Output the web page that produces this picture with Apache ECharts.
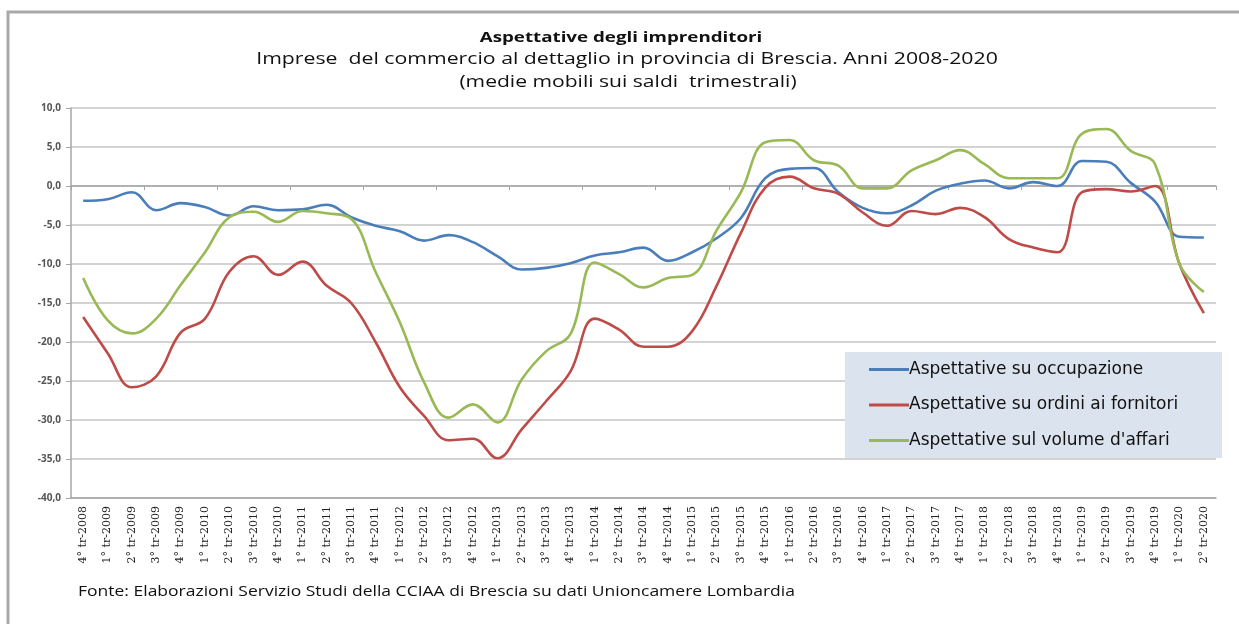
<!DOCTYPE html>
<html>
<head>
<meta charset="utf-8">
<script src="https://cdn.jsdelivr.net/npm/echarts@6/dist/echarts.min.js"></script>
<style>
  html, body { margin: 0; padding: 0; background: #fff; }
  #chart { width: 1239px; height: 624px; }
</style>
</head>
<body>
<div id="chart"></div>
<script>
// trimestri 4° tr-2008 ... 2° tr-2020
const quarters = ["4° tr-2008"];
for (let y = 2009; y <= 2020; y++) {
  for (let q = 1; q <= 4; q++) {
    if (y === 2020 && q > 2) break;
    quarters.push(q + "° tr-" + y);
  }
}

const seriesNames = [
  "Aspettative su occupazione",
  "Aspettative su ordini ai fornitori",
  "Aspettative sul volume d'affari",
];

const occupazione = [
  -1.9, -1.7, -0.8, -3.1, -2.2, -2.7, -3.8, -2.6, -3.1, -3.0, -2.4, -4.0,
  -5.1, -5.8, -7.0, -6.3, -7.2, -9.0, -10.7, -10.5, -9.9, -8.9, -8.5, -7.9,
  -9.6, -8.5, -6.7, -4.1, 1.0, 2.2, 2.3, -0.8, -2.8, -3.5, -2.5, -0.6,
  0.3, 0.7, -0.3, 0.5, 0.0, 3.2, 3.1, 0.4, -2.0, -6.5, -6.6,
];

const ordini = [
  -16.8, -21.4, -25.8, -24.4, -18.8, -17.0, -11.0, -9.0, -11.4, -9.7, -12.8, -15.0,
  -20.0, -25.8, -29.5, -32.6, -32.4, -34.9, -31.2, -27.6, -23.8, -17.0, -18.4, -20.6,
  -20.6, -18.6, -12.8, -6.0, -0.2, 1.2, -0.3, -1.0, -3.4, -5.1, -3.2, -3.6,
  -2.8, -4.0, -6.8, -7.9, -8.5, -0.8, -0.4, -0.7, 0.0, -10.0, -16.3,
];

const volume = [
  -11.8, -17.2, -18.9, -17.0, -12.7, -8.5, -4.0, -3.3, -4.6, -3.2, -3.5, -4.2,
  -11.0, -17.5, -25.2, -29.7, -28.0, -30.3, -24.8, -21.2, -19.0, -9.8, -11.3, -13.0,
  -11.8, -11.4, -5.7, -0.8, 5.6, 5.9, 3.3, 2.6, -0.3, -0.3, 2.0, 3.3,
  4.6, 2.8, 1.0, 1.0, 1.0, 6.7, 7.3, 4.5, 2.8, -10.0, -13.6,
];

const colors = ["#4a7ebb", "#be4b48", "#98b954"];

// testo con allargamento orizzontale (l'originale è stirato)
function label(text, x, y, font, sx, align) {
  return {
    type: "text",
    silent: true,
    x: x,
    y: y,
    scaleX: sx,
    style: {
      text: text,
      x: 0,
      y: 0,
      textAlign: align || "center",
      textVerticalAlign: "middle",
      font: font,
      fill: "#111",
    },
  };
}

const chart = echarts.init(document.getElementById("chart"));

const option = {
  animation: false,
  color: colors,
  graphic: [
    {
      type: "rect",
      z: 0,
      silent: true,
      shape: { x: 8, y: 12, width: 1300, height: 700 },
      style: { fill: "none", stroke: "#a9a9a9", lineWidth: 3 },
    },
    label("Aspettative degli imprenditori", 621, 38, "bold 15px 'Open Sans'", 1.25),
    label("Imprese  del commercio al dettaglio in provincia di Brescia. Anni 2008-2020", 627, 59, "17px 'Open Sans'", 1.25),
    label("(medie mobili sui saldi  trimestrali)", 628, 82, "17px 'Open Sans'", 1.24),
    label("Fonte: Elaborazioni Servizio Studi della CCIAA di Brescia su dati Unioncamere Lombardia", 78, 592, "14px 'Open Sans'", 1.25, "left"),
    {
      type: "rect",
      z: 5,
      silent: true,
      shape: { x: 845, y: 352, width: 377, height: 106 },
      style: { fill: "#dbe3ee" },
    },
  ],
  legend: {
    z: 10,
    orient: "vertical",
    left: 864,
    top: 356,
    icon: "rect",
    itemWidth: 40,
    itemHeight: 3,
    itemGap: 18.5,
    textStyle: {
      fontFamily: "DejaVu Sans",
      fontSize: 17,
      color: "#111",
      padding: [0, 0, 0, -5],
    },
    data: seriesNames,
  },
  grid: { left: 71, right: 23, top: 108, bottom: 126 },
  xAxis: [
    {
      type: "category",
      data: quarters,
      position: "bottom",
      axisLine: { onZero: false, lineStyle: { color: "#a6a6a6", width: 1.5 } },
      axisTick: { show: false },
      axisLabel: {
        rotate: 90,
        interval: 0,
        margin: 8,
        fontFamily: "DejaVu Serif",
        fontSize: 11,
        color: "#222",
      },
    },
    {
      type: "category",
      data: quarters,
      position: "top",
      axisLine: { onZero: true, lineStyle: { color: "#a6a6a6", width: 1.5 } },
      axisTick: { show: true, inside: true, length: 4, lineStyle: { color: "#a6a6a6" } },
      axisLabel: { show: false },
    },
  ],
  yAxis: {
    type: "value",
    min: -40,
    max: 10,
    interval: 5,
    axisLine: { show: true, lineStyle: { color: "#a6a6a6", width: 1.5 } },
    axisTick: { show: true, length: 5, lineStyle: { color: "#a6a6a6" } },
    splitLine: { lineStyle: { color: "#c4c4c4", width: 1.5 } },
    axisLabel: {
      margin: 10,
      fontFamily: "Open Sans",
      fontSize: 10,
      fontWeight: "bold",
      color: "#555",
      formatter: (v) => v.toFixed(1).replace(".", ","),
    },
  },
  series: [
    { name: seriesNames[0], data: occupazione },
    { name: seriesNames[1], data: ordini },
    { name: seriesNames[2], data: volume },
  ].map((s) => ({
    ...s,
    type: "line",
    xAxisIndex: 0,
    smooth: 0.4,
    symbol: "none",
    lineStyle: { width: 2.6 },
    z: 3,
  })),
};

chart.setOption(option);
window.onresize = function () {
  chart.resize();
};
</script>
</body>
</html>
